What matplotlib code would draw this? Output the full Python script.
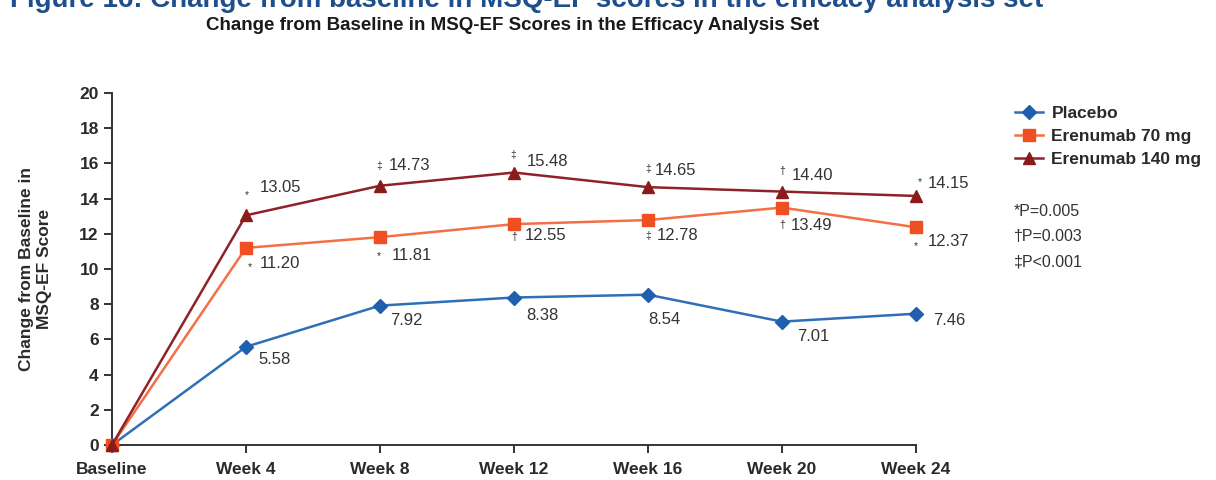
import matplotlib
matplotlib.use("Agg")
import matplotlib.pyplot as plt

plt.rcParams['font.family'] = ['Liberation Sans', 'DejaVu Sans']

categories = ["Baseline", "Week 4", "Week 8", "Week 12", "Week 16", "Week 20", "Week 24"]
placebo = [0, 5.58, 7.92, 8.38, 8.54, 7.01, 7.46]
erenumab_70 = [0, 11.20, 11.81, 12.55, 12.78, 13.49, 12.37]
erenumab_140 = [0, 13.05, 14.73, 15.48, 14.65, 14.40, 14.15]
sym_70 = ["", "*", "*", "\u2020", "\u2021", "\u2020", "*"]
sym_140 = ["", "*", "\u2021", "\u2021", "\u2021", "\u2020", "*"]
series_names = ["Placebo", "Erenumab 70 mg", "Erenumab 140 mg"]
footnotes = ["*P=0.005", "\u2020P=0.003", "\u2021P<0.001"]
yticks = list(range(0, 21, 2))

# label offsets in pixels (dx, dy) for number text, and for significance symbols
off_pl = [None, (12, -13), (10, -15), (12, -18), (0, -25), (15, -15), (17, -7)]
off_70 = [None, (14, -16), (12, -18), (11, -11), (9, -15), (9, -18), (12, -14)]
off_140 = [None, (14, 28), (9, 20), (13, 11), (7, 17), (10, 16), (12, 12)]
soff_70 = [None, (4, -19), (-1, -19), (0, -13), (0, -16), (0, -17), (0, -19)]
soff_140 = [None, (1, 20), (-1, 20), (-1, 18), (0, 18), (0, 21), (4, 14)]

C_PL, C_PL_M = "#2f6fb8", "#1f5fae"
C_70, C_70_M = "#f36f45", "#ef4f23"
C_140, C_140_M = "#8e2228", "#8b1a1a"
TXT = "#2a2a2a"

fig = plt.figure(figsize=(12.16, 4.8), dpi=100)
ax = fig.add_axes([112/1216, 35/480, 804/1216, 352/480])

x = list(range(len(categories)))
l_pl, = ax.plot(x, placebo, color=C_PL, lw=1.8, marker="D", markersize=7.5,
                markerfacecolor=C_PL_M, markeredgecolor=C_PL_M, clip_on=False, zorder=3)
l_70, = ax.plot(x, erenumab_70, color=C_70, lw=1.8, marker="s", markersize=8,
                markerfacecolor=C_70_M, markeredgecolor=C_70_M, clip_on=False, zorder=3)
l_140, = ax.plot(x, erenumab_140, color=C_140, lw=1.8, marker="^", markersize=8.5,
                 markerfacecolor=C_140_M, markeredgecolor=C_140_M, clip_on=False, zorder=4)

ax.set_xlim(0, len(categories) - 1)
ax.set_ylim(0, 20)
ax.set_yticks(yticks)
ax.set_xticks(x)
ax.set_xticklabels(categories)
for s in ["top", "right"]:
    ax.spines[s].set_visible(False)
for s in ["left", "bottom"]:
    ax.spines[s].set_color("#333333")
    ax.spines[s].set_linewidth(1.4)
ax.tick_params(axis="both", direction="out", length=6, width=1.4, color="#333333",
               labelsize=12.5, labelcolor=TXT)
ax.tick_params(axis="x", pad=6)
for lab in ax.get_xticklabels() + ax.get_yticklabels():
    lab.set_fontweight("bold")

ax.set_ylabel("Change from Baseline in\nMSQ-EF Score", fontsize=12.5, fontweight="bold",
              color=TXT, labelpad=20, linespacing=1.25)

def label(vals, offs, syms=None, soffs=None):
    for i, v in enumerate(vals):
        if offs[i] is None:
            continue
        ax.annotate(f"{v:.2f}", (i, v), xytext=offs[i], textcoords="offset pixels",
                    ha="left", va="center", fontsize=12, color="#333333", zorder=5)
        if syms and syms[i]:
            ax.annotate(syms[i], (i, v), xytext=soffs[i], textcoords="offset pixels",
                        ha="center", va="center", fontsize=7.5, color="#333333", zorder=5)

label(placebo, off_pl)
label(erenumab_70, off_70, sym_70, soff_70)
label(erenumab_140, off_140, sym_140, soff_140)

leg = fig.legend([l_pl, l_70, l_140], series_names, loc="upper left",
                 bbox_to_anchor=(1015/1216, 1 - 106/480), frameon=False,
                 fontsize=12.5, handlelength=1.6, handletextpad=0.5, labelspacing=0.45,
                 borderaxespad=0, borderpad=0)
for t in leg.get_texts():
    t.set_fontweight("bold")
    t.set_color(TXT)

for k, fn in enumerate(footnotes):
    fig.text(1014/1216, 1 - (211 + 25.5*k)/480, fn, ha="left", va="center",
             fontsize=11.5, color="#333333")

fig.text(513/1216, 1 - 25/480, "Change from Baseline in MSQ-EF Scores in the Efficacy Analysis Set",
         ha="center", va="center", fontsize=13.5, fontweight="bold", color="#1a1a1a")
fig.text(10/1216, 1 - 7/480,
         "Figure 16: Change from baseline in MSQ-EF scores in the efficacy analysis set",
         ha="left", va="baseline", fontsize=20, fontweight="bold", color="#1f4e8c")

fig.savefig("out.png", dpi=100)
